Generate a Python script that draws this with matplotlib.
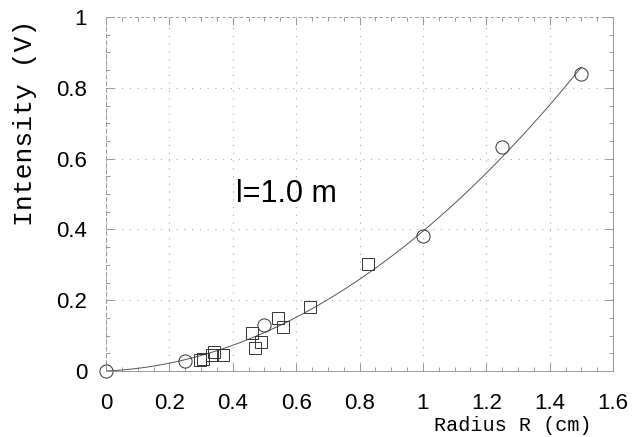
import numpy as np
import matplotlib
matplotlib.use("Agg")
import matplotlib.pyplot as plt
from matplotlib.ticker import MultipleLocator

# circles
circ_r = [0.0, 0.25, 0.50, 1.0, 1.25, 1.5]
circ_i = [0.0, 0.028, 0.13, 0.382, 0.632, 0.838]
# squares
sq_r = [0.297, 0.306, 0.334, 0.34, 0.37, 0.46, 0.47, 0.49, 0.543, 0.558, 0.644, 0.827]
sq_i = [0.031, 0.035, 0.045, 0.054, 0.046, 0.107, 0.065, 0.083, 0.15, 0.125, 0.18, 0.302]

xticks = [0, 0.2, 0.4, 0.6, 0.8, 1, 1.2, 1.4, 1.6]
xticklabels = ["0", "0.2", "0.4", "0.6", "0.8", "1", "1.2", "1.4", "1.6"]
yticks = [0, 0.2, 0.4, 0.6, 0.8, 1]
yticklabels = ["0", "0.2", "0.4", "0.6", "0.8", "1"]

# quadratic fit through origin: I = c R^2 + d R
allr = np.array(circ_r + sq_r)
alli = np.array(circ_i + sq_i)
A = np.vstack([allr**2, allr]).T
c, d = np.linalg.lstsq(A, alli, rcond=None)[0]

fig = plt.figure(figsize=(6.32, 4.37), dpi=100)
ax = fig.add_axes([0.1677, 0.151, 0.8023, 0.810])

rr = np.linspace(0, 1.5, 200)
ax.plot(rr, c * rr**2 + d * rr, color="#555555", lw=0.7)
ax.plot(circ_r, circ_i, "o", mfc="none", mec="#333333", ms=9.5, mew=0.7, clip_on=False)
ax.plot(sq_r, sq_i, "s", mfc="none", mec="#333333", ms=9, mew=0.7)

ax.set_xlim(0, 1.6)
ax.set_ylim(0, 1)
ax.set_xticks(xticks)
ax.set_xticklabels(xticklabels)
ax.set_yticks(yticks)
ax.set_yticklabels(yticklabels)
ax.xaxis.set_minor_locator(MultipleLocator(0.05))
ax.yaxis.set_minor_locator(MultipleLocator(0.05))
ax.tick_params(which="both", direction="in", top=True, right=True, color="#888888", width=0.6)
ax.tick_params(which="major", length=6)
ax.tick_params(which="minor", length=3)
ax.tick_params(axis="x", which="major", pad=16, labelsize=16)
ax.tick_params(axis="y", which="major", pad=13.5, labelsize=16)
for lab in ax.get_xticklabels() + ax.get_yticklabels():
    lab.set_family("Liberation Sans")

ax.grid(True, which="major", color="#aaaaaa", ls=(0, (1, 6)), lw=0.8)
for s in ax.spines.values():
    s.set_color("#999999")
    s.set_linewidth(0.7)
ax.spines["top"].set_linestyle((0, (2, 4)))
ax.spines["left"].set_linestyle((0, (4, 3)))

ax.set_xlabel("Radius R (cm)", family="Liberation Mono", fontsize=14.5, ha="right")
ax.xaxis.set_label_coords(0.958, -0.128)
ax.set_ylabel("Intensity (V)", family="Liberation Mono", fontsize=19)
ax.yaxis.set_label_coords(-0.136, 0.70)

ax.text(0.41, 0.50, "l=1.0 m", family="Liberation Sans", fontsize=22, va="center", ha="left")

fig.savefig("out.png", dpi=100)
